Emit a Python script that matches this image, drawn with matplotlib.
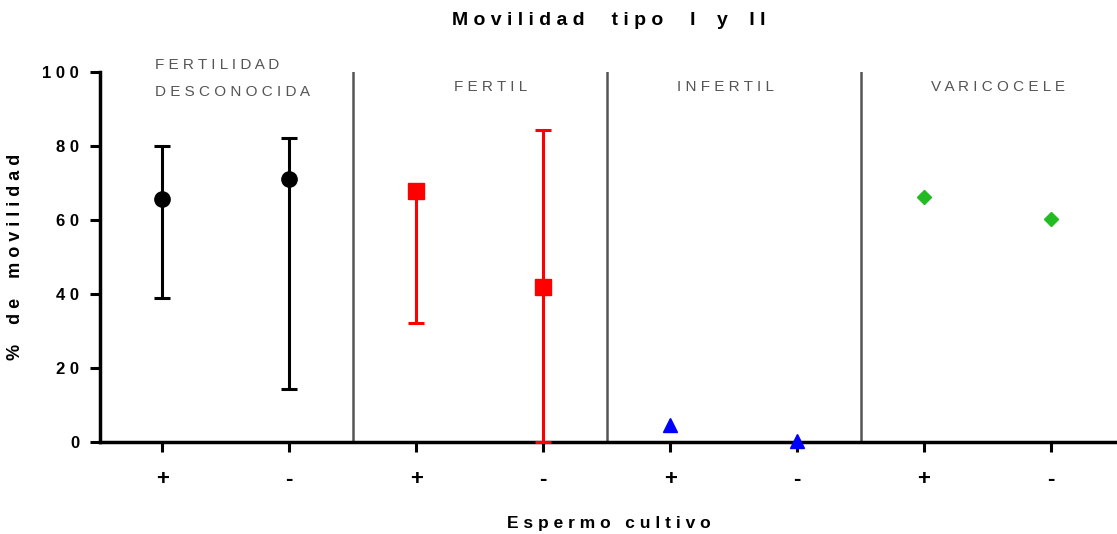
import numpy as np
import matplotlib.pyplot as plt

plt.rcParams['font.family'] = ['Liberation Sans', 'DejaVu Sans']

groups = ["FERTILIDAD\nDESCONOCIDA", "FERTIL", "INFERTIL", "VARICOCELE"]
signs = ["+", "-"]
colors = ["black", "#ff0000", "#0000ff", "#22bb22"]
markers = ["o", "s", "^", "D"]
msizes = [11, 11, 10, 7]

# mean, upper, lower for (+, -) in each group
means = [[65.7, 71.0], [68.0, 41.9], [4.6, 0.3], [66.2, 60.3]]
upper = [[80.0, 82.2], [69.0, 84.3], [4.6, 0.3], [66.2, 60.3]]
lower = [[38.9, 14.3], [32.2, 0.0], [4.6, 0.3], [66.2, 60.3]]


def sp(s):
    return " ".join(list(s)).replace("   ", "    ")


fig = plt.figure(figsize=(11.17, 5.34), dpi=100)
ax = fig.add_axes([0.0895, 0.172, 0.9105, 0.693])

for g in range(4):
    xs = np.array([2 * g, 2 * g + 1])
    m = np.array(means[g])
    err = np.array([m - np.array(lower[g]), np.array(upper[g]) - m])
    has_err = err.max() > 0
    ax.errorbar(xs, m, yerr=err if has_err else None, fmt=markers[g],
                color=colors[g], ms=msizes[g], capsize=6, elinewidth=2.2,
                capthick=2.2, clip_on=False, zorder=5)

for d in [1.5, 3.5, 5.5]:
    ax.axvline(d, color="#555555", lw=1.8, zorder=1)

ax.set_xlim(-0.49, 7.52)
ax.set_ylim(0, 100)
ax.set_xticks(range(8))
ax.set_xticklabels(signs * 4, fontsize=16, fontweight="bold")
ax.set_yticks([0, 20, 40, 60, 80, 100])
ax.set_yticklabels([sp(str(v)) for v in [0, 20, 40, 60, 80, 100]],
                   fontsize=12, fontweight="bold")
ax.tick_params(axis="both", width=2.2, length=7, direction="out")
ax.tick_params(axis="x", pad=12)
ax.tick_params(axis="y", pad=8)

for s in ["top", "right"]:
    ax.spines[s].set_visible(False)
ax.spines["left"].set_linewidth(2.5)
ax.spines["bottom"].set_linewidth(2.5)

ax.set_title(sp("Movilidad") + "     " + sp("tipo") + "     I    y    I I",
             fontsize=14, fontweight="bold", pad=34)
ax.set_xlabel(sp("Espermo") + "   " + sp("cultivo"), fontsize=12.5,
              fontweight="bold", labelpad=19)
ax.set_ylabel(sp("%") + "    " + sp("de") + "    " + sp("movilidad"),
              fontsize=13, fontweight="bold", labelpad=13)

gray = "#555555"
ax.text(-0.06, 102, sp("FERTILIDAD"), ha="left", va="center", fontsize=11,
        color=gray)
ax.text(-0.06, 94.5, sp("DESCONOCIDA"), ha="left", va="center", fontsize=11,
        color=gray)
for g, lab, off in zip([1, 2, 3], groups[1:], [0.59, 0.44, 0.58]):
    ax.text(2 * g + off, 96, sp(lab), ha="center", va="center", fontsize=11,
            color=gray)

fig.savefig("out.png", dpi=100)
